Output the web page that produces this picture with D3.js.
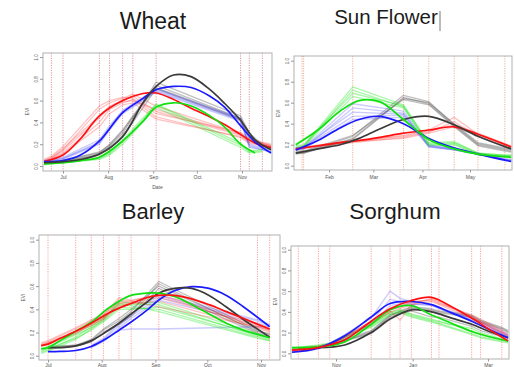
<!DOCTYPE html>
<html>
<head>
<meta charset="utf-8">
<script src="https://cdn.jsdelivr.net/npm/d3@7"></script>
<style>
    html, body { margin: 0; padding: 0; background: #fff; }
    svg { display: block; }
</style>
</head>
<body>
<svg id="chart" width="514" height="367"></svg>
<script>
// ── Data ──────────────────────────────────────────────────────────────────────
const Y_TICKS = [0, 0.2, 0.4, 0.6, 0.8, 1.0];

// Wheat
const WHEAT_MONTHS = ['2015-07-01', '2015-08-01', '2015-09-01', '2015-10-01', '2015-11-01'];
const WHEAT_VLINES = ['2015-06-23', '2015-07-01', '2015-07-26', '2015-08-02', '2015-08-11',
                      '2015-08-18', '2015-09-03', '2015-10-31', '2015-11-06', '2015-11-15'];
const WHEAT_OBS_T  = ['2015-06-18', '2015-06-23', '2015-07-01', '2015-07-26', '2015-08-02', '2015-08-11',
                      '2015-08-18', '2015-09-03', '2015-10-31', '2015-11-06', '2015-11-15', '2015-11-21'];
const WHEAT_FIT_T  = ['2015-06-18', '2015-07-01', '2015-07-13', '2015-07-26', '2015-08-11', '2015-08-25', '2015-09-03',
                      '2015-09-15', '2015-09-27', '2015-10-10', '2015-10-20', '2015-10-31', '2015-11-10', '2015-11-21'];
const WHEAT_FIT_BLACK = [0.03, 0.04, 0.06, 0.11, 0.27, 0.58, 0.73, 0.835, 0.82, 0.70, 0.575, 0.42, 0.24, 0.15];
const WHEAT_FIT_BLUE  = [0.04, 0.05, 0.10, 0.23, 0.49, 0.62, 0.70, 0.73, 0.72, 0.64, 0.54, 0.37, 0.22, 0.12];
const WHEAT_FIT_RED   = [0.04, 0.10, 0.25, 0.46, 0.60, 0.665, 0.67, 0.61, 0.53, 0.45, 0.38, 0.29, 0.21, 0.17];
const WHEAT_FIT_GREEN = [0.02, 0.03, 0.05, 0.08, 0.23, 0.41, 0.54, 0.58, 0.55, 0.46, 0.36, 0.20, 0.12, null];
const WHEAT_OBS_GRAY = [
    [0.03, 0.03, 0.04, 0.11, 0.18, 0.30, 0.44, 0.77, 0.46, 0.30, 0.20, 0.17],
    [0.03, 0.04, 0.05, 0.12, 0.20, 0.33, 0.46, 0.74, 0.44, 0.27, 0.19, 0.16],
    [0.02, 0.03, 0.04, 0.10, 0.16, 0.28, 0.40, 0.71, 0.42, 0.25, 0.18, 0.15],
    [0.03, 0.03, 0.05, 0.13, 0.19, 0.32, 0.45, 0.72, 0.43, 0.28, 0.19, 0.16],
];
const WHEAT_OBS_BLUE = [
    [0.04, 0.05, 0.07, 0.22, 0.35, 0.50, 0.56, 0.70, 0.43, 0.19, 0.16, 0.13],
    [0.03, 0.04, 0.06, 0.20, 0.33, 0.48, 0.54, 0.68, 0.41, 0.18, 0.15, 0.12],
    [0.05, 0.06, 0.08, 0.24, 0.37, 0.51, 0.57, 0.71, 0.44, 0.20, 0.17, 0.14],
    [0.04, 0.05, 0.07, 0.21, 0.34, 0.49, 0.55, 0.69, 0.42, 0.17, 0.15, 0.13],
];
const WHEAT_OBS_RED = [
    [0.04, 0.07, 0.15, 0.52, 0.58, 0.62, 0.66, 0.55, 0.30, 0.24, 0.21, 0.19],
    [0.05, 0.08, 0.16, 0.46, 0.55, 0.60, 0.64, 0.50, 0.28, 0.22, 0.20, 0.18],
    [0.03, 0.06, 0.12, 0.40, 0.52, 0.58, 0.61, 0.45, 0.26, 0.21, 0.19, 0.17],
    [0.06, 0.09, 0.18, 0.55, 0.60, 0.63, 0.62, 0.48, 0.31, 0.25, 0.22, 0.20],
    [0.04, 0.06, 0.11, 0.36, 0.48, 0.56, 0.58, 0.43, 0.27, 0.23, 0.20, 0.18],
    [0.05, 0.07, 0.14, 0.44, 0.54, 0.59, 0.60, 0.52, 0.29, 0.23, 0.21, 0.19],
];
const WHEAT_OBS_GREEN = [
    [0.02, 0.02, 0.03, 0.07, 0.11, 0.22, 0.32, 0.56, 0.19, 0.13, 0.14, null],
    [0.01, 0.02, 0.03, 0.06, 0.10, 0.20, 0.30, 0.54, 0.17, 0.12, 0.13, null],
    [0.02, 0.03, 0.04, 0.08, 0.12, 0.24, 0.34, 0.57, 0.21, 0.14, 0.15, null],
];

// Sun Flower
const SF_MONTHS = ['2015-02-01', '2015-03-01', '2015-04-01', '2015-05-01'];
const SF_VLINES = ['2015-01-15', '2015-01-16', '2015-02-16', '2015-03-20',
                   '2015-04-05', '2015-04-21', '2015-05-06', '2015-05-23'];
const SF_OBS_T  = ['2015-01-11', '2015-01-16', '2015-02-16', '2015-03-20', '2015-04-05',
                   '2015-04-21', '2015-05-06', '2015-05-23', '2015-05-27'];
const SF_FIT_T  = ['2015-01-11', '2015-01-25', '2015-02-08', '2015-02-20', '2015-03-05',
                   '2015-03-20', '2015-04-05', '2015-04-21', '2015-05-06', '2015-05-27'];
const SF_FIT_BLACK = [0.12, 0.16, 0.20, 0.26, 0.35, 0.44, 0.47, 0.39, 0.28, 0.16];
const SF_FIT_BLUE  = [0.15, 0.24, 0.36, 0.44, 0.47, 0.40, 0.26, 0.17, 0.11, 0.04];
const SF_FIT_RED   = [0.16, 0.19, 0.22, 0.24, 0.27, 0.31, 0.34, 0.37, 0.30, 0.18];
const SF_FIT_GREEN = [0.20, 0.34, 0.52, 0.62, 0.61, 0.44, 0.25, 0.16, 0.11, 0.08];
const SF_OBS_GRAY = [
    [0.13, 0.13, 0.28, 0.67, 0.61, 0.39, 0.21, 0.16, 0.15],
    [0.12, 0.12, 0.26, 0.65, 0.59, 0.38, 0.20, 0.15, 0.14],
    [0.14, 0.14, 0.29, 0.63, 0.58, 0.37, 0.19, 0.14, 0.13],
    [0.11, 0.12, 0.25, 0.64, 0.60, 0.40, 0.22, 0.17, 0.16],
];
const SF_OBS_BLUE = [
    [0.16, 0.17, 0.59, 0.52, 0.19, 0.16, 0.12, 0.06, 0.05],
    [0.15, 0.16, 0.55, 0.50, 0.18, 0.15, 0.11, 0.06, 0.05],
    [0.17, 0.18, 0.51, 0.49, 0.20, 0.16, 0.12, 0.07, 0.06],
    [0.16, 0.17, 0.47, 0.48, 0.19, 0.15, 0.11, 0.06, 0.05],
    [0.15, 0.16, 0.44, 0.46, 0.18, 0.15, 0.11, 0.05, 0.04],
];
const SF_OBS_RED = [
    [0.16, 0.17, 0.23, 0.29, 0.34, 0.46, 0.30, 0.20, 0.18],
    [0.15, 0.16, 0.22, 0.27, 0.32, 0.42, 0.28, 0.19, 0.17],
    [0.17, 0.18, 0.24, 0.28, 0.33, 0.39, 0.31, 0.21, 0.19],
    [0.16, 0.17, 0.23, 0.26, 0.31, 0.37, 0.29, 0.20, 0.18],
];
const SF_OBS_GREEN = [
    [0.18, 0.19, 0.75, 0.58, 0.22, 0.23, 0.12, 0.10, 0.10],
    [0.17, 0.18, 0.72, 0.56, 0.20, 0.21, 0.11, 0.09, 0.09],
    [0.19, 0.20, 0.69, 0.57, 0.21, 0.22, 0.12, 0.10, 0.10],
    [0.17, 0.18, 0.66, 0.55, 0.19, 0.20, 0.10, 0.09, 0.09],
];

// Barley
const BARLEY_MONTHS = ['2015-07-01', '2015-08-01', '2015-09-01', '2015-10-01', '2015-11-01'];
const BARLEY_VLINES = ['2015-07-01', '2015-07-17', '2015-07-26', '2015-08-02', '2015-08-11',
                       '2015-08-18', '2015-09-03', '2015-10-30', '2015-11-06'];
const BARLEY_OBS_T  = ['2015-06-27', '2015-07-01', '2015-07-17', '2015-07-26', '2015-08-02',
                       '2015-08-11', '2015-08-18', '2015-09-03', '2015-10-30', '2015-11-06'];
const BARLEY_FIT_T  = ['2015-06-27', '2015-07-01', '2015-07-08', '2015-07-17', '2015-07-26', '2015-08-04',
                       '2015-08-11', '2015-08-18', '2015-08-27', '2015-09-03', '2015-09-12', '2015-09-22',
                       '2015-10-02', '2015-10-12', '2015-10-22', '2015-11-06'];
const BARLEY_FIT_BLACK = [null, 0.07, 0.07, 0.085, 0.13, 0.21, 0.28, 0.36, 0.46, 0.54, 0.58, 0.58, 0.52, 0.42, 0.31, 0.16];
const BARLEY_FIT_BLUE  = [null, 0.035, 0.037, 0.045, 0.08, 0.15, 0.22, 0.29, 0.39, 0.48, 0.56, 0.595, 0.58, 0.52, 0.42, 0.25];
const BARLEY_FIT_RED   = [0.087, 0.10, 0.15, 0.21, 0.28, 0.36, 0.41, 0.45, 0.50, 0.52, 0.52, 0.49, 0.44, 0.38, 0.32, 0.23];
const BARLEY_FIT_GREEN = [0.06, 0.07, 0.13, 0.21, 0.29, 0.40, 0.47, 0.52, 0.54, 0.54, 0.51, 0.44, 0.36, 0.28, 0.22, 0.155];
const BARLEY_OBS_GRAY = [
    [null, 0.07, 0.09, 0.13, 0.22, 0.30, 0.38, 0.64, 0.22, 0.18],
    [null, 0.07, 0.08, 0.12, 0.20, 0.28, 0.35, 0.62, 0.20, 0.17],
    [null, 0.08, 0.09, 0.14, 0.23, 0.32, 0.40, 0.60, 0.21, 0.19],
    [null, 0.06, 0.08, 0.12, 0.19, 0.27, 0.34, 0.58, 0.19, 0.16],
];
const BARLEY_OBS_BLUE = [
    [null, null, null, 0.08, 0.13, 0.22, 0.23, 0.23, 0.25, 0.25],
    [null, null, null, 0.08, 0.14, 0.26, 0.34, 0.50, 0.30, 0.26],
    [null, null, null, 0.07, 0.12, 0.24, 0.32, 0.48, 0.28, 0.25],
    [null, null, null, 0.09, 0.15, 0.28, 0.36, 0.52, 0.31, 0.27],
];
const BARLEY_OBS_RED = [
    [0.09, 0.11, 0.21, 0.28, 0.33, 0.48, 0.47, 0.42, 0.25, 0.22],
    [0.08, 0.10, 0.19, 0.27, 0.32, 0.45, 0.46, 0.50, 0.26, 0.22],
    [0.10, 0.12, 0.23, 0.30, 0.35, 0.50, 0.48, 0.52, 0.25, 0.21],
    [0.09, 0.11, 0.20, 0.26, 0.31, 0.43, 0.45, 0.47, 0.24, 0.20],
    [0.11, 0.13, 0.24, 0.31, 0.36, 0.46, 0.47, 0.53, 0.27, 0.23],
];
const BARLEY_OBS_GREEN = [
    [0.03, 0.05, 0.16, 0.25, 0.32, 0.45, 0.44, 0.44, 0.17, 0.14],
    [0.05, 0.07, 0.18, 0.24, 0.30, 0.42, 0.41, 0.40, 0.16, 0.13],
    [0.04, 0.06, 0.15, 0.22, 0.29, 0.40, 0.40, 0.42, 0.18, 0.15],
    [0.06, 0.08, 0.19, 0.26, 0.33, 0.44, 0.43, 0.38, 0.15, 0.13],
    [0.02, 0.04, 0.14, 0.23, 0.31, 0.47, 0.45, 0.46, 0.19, 0.16],
];

// Sorghum
const SORGHUM_MONTHS = ['2015-11-01', '2016-01-01', '2016-03-01'];
const SORGHUM_VLINES = ['2015-10-02', '2015-10-18', '2015-10-27', '2015-11-29', '2015-12-14', '2015-12-22',
                        '2015-12-31', '2016-01-16', '2016-01-22', '2016-02-17', '2016-02-24', '2016-03-12'];
const SORGHUM_OBS_T  = ['2015-09-27', '2015-10-02', '2015-10-18', '2015-10-27', '2015-11-29', '2015-12-14', '2015-12-22',
                        '2015-12-31', '2016-01-16', '2016-01-22', '2016-02-17', '2016-02-24', '2016-03-12', '2016-03-17'];
const SORGHUM_FIT_T  = ['2015-09-27', '2015-10-18', '2015-11-08', '2015-11-29', '2015-12-14', '2015-12-31',
                        '2016-01-16', '2016-02-01', '2016-02-17', '2016-03-02', '2016-03-17'];
const SORGHUM_FIT_BLACK = [null, 0.054, 0.08, 0.20, 0.33, 0.42, 0.40, 0.34, 0.28, 0.21, 0.15];
const SORGHUM_FIT_BLUE  = [0.01, 0.05, 0.17, 0.35, 0.48, 0.50, 0.47, 0.39, 0.31, 0.23, 0.15];
const SORGHUM_FIT_RED   = [0.03, 0.055, 0.13, 0.31, 0.43, 0.51, 0.54, 0.45, 0.34, 0.23, 0.12];
const SORGHUM_FIT_GREEN = [0.055, 0.06, 0.11, 0.28, 0.42, 0.46, 0.37, 0.29, 0.21, 0.16, 0.12];
const SORGHUM_OBS_GRAY = [
    [null, 0.05, 0.06, 0.08, 0.19, 0.33, 0.38, 0.41, 0.35, 0.35, 0.26, 0.22, 0.16, 0.14],
    [null, 0.05, 0.06, 0.08, 0.21, 0.36, 0.41, 0.45, 0.43, 0.41, 0.37, 0.32, 0.25, 0.22],
    [null, 0.05, 0.06, 0.09, 0.22, 0.37, 0.40, 0.44, 0.42, 0.40, 0.36, 0.31, 0.24, 0.21],
    [null, 0.04, 0.05, 0.08, 0.20, 0.35, 0.39, 0.43, 0.41, 0.39, 0.35, 0.30, 0.23, 0.20],
];
const SORGHUM_OBS_BLUE = [
    [0.01, 0.02, 0.05, 0.09, 0.34, 0.60, 0.53, 0.50, 0.47, 0.44, 0.33, 0.29, 0.20, 0.17],
    [0.02, 0.03, 0.06, 0.10, 0.30, 0.52, 0.50, 0.48, 0.46, 0.43, 0.32, 0.28, 0.19, 0.16],
    [0.01, 0.02, 0.05, 0.08, 0.28, 0.46, 0.48, 0.47, 0.47, 0.44, 0.34, 0.30, 0.21, 0.18],
];
const SORGHUM_OBS_RED = [
    [0.03, 0.04, 0.06, 0.08, 0.30, 0.41, 0.32, 0.47, 0.53, 0.50, 0.36, 0.31, 0.21, 0.17],
    [0.04, 0.05, 0.07, 0.09, 0.28, 0.42, 0.44, 0.49, 0.52, 0.49, 0.35, 0.30, 0.20, 0.16],
    [0.03, 0.04, 0.06, 0.08, 0.31, 0.43, 0.45, 0.50, 0.51, 0.48, 0.37, 0.33, 0.22, 0.18],
    [0.02, 0.04, 0.05, 0.08, 0.29, 0.40, 0.43, 0.47, 0.50, 0.47, 0.34, 0.30, 0.19, 0.15],
];
const SORGHUM_OBS_GREEN = [
    [0.05, 0.06, 0.07, 0.09, 0.27, 0.40, 0.42, 0.38, 0.33, 0.31, 0.22, 0.18, 0.13, 0.12],
    [0.05, 0.06, 0.07, 0.09, 0.26, 0.38, 0.40, 0.36, 0.31, 0.29, 0.19, 0.16, 0.12, 0.11],
    [0.06, 0.06, 0.08, 0.10, 0.28, 0.39, 0.41, 0.37, 0.32, 0.30, 0.24, 0.20, 0.14, 0.12],
    [0.05, 0.05, 0.07, 0.09, 0.25, 0.37, 0.39, 0.35, 0.30, 0.28, 0.18, 0.15, 0.11, 0.10],
];


// ── Styles ────────────────────────────────────────────────────────────────────
const FIT_COLOR = { black: '#3a3a3a', blue: '#1a1aff', red: '#ff1010', green: '#10e010' };
const OBS_COLOR = {
    gray:  'rgba(60,60,60,0.32)',
    blue:  'rgba(70,70,255,0.28)',
    red:   'rgba(255,40,40,0.28)',
    green: 'rgba(20,230,20,0.35)',
};
const FONT = '"Liberation Sans", Arial, sans-serif';


// ── Panels ────────────────────────────────────────────────────────────────────
// xLabelY: baseline of the month labels (bottom panels sit at the image edge)
const PANELS = [
    {
        title: 'Wheat', titleX: 153, titleY: 29, titleSize: 23,
        box: [43, 53, 272, 171], y0: 166, y1: 57, xLabelY: 179,
        xAnchor: ['2015-07-01', '2015-11-01'], xAnchorPx: [63, 242],
        months: WHEAT_MONTHS, vlines: WHEAT_VLINES, vlineColor: 'rgba(200,60,80,0.6)',
        obsT: WHEAT_OBS_T, fitT: WHEAT_FIT_T, xTitle: 'Date',
        obs: { gray: WHEAT_OBS_GRAY, red: WHEAT_OBS_RED, blue: WHEAT_OBS_BLUE, green: WHEAT_OBS_GREEN },
        fit: { red: WHEAT_FIT_RED, green: WHEAT_FIT_GREEN, blue: WHEAT_FIT_BLUE, black: WHEAT_FIT_BLACK },
    },
    {
        title: 'Sun Flower', titleX: 386, titleY: 24, titleSize: 20.5, cursor: true,
        box: [294, 56, 512, 170], y0: 165.7, y1: 60.7, xLabelY: 179,
        xAnchor: ['2015-02-01', '2015-05-01'], xAnchorPx: [329, 470],
        months: SF_MONTHS, vlines: SF_VLINES, vlineColor: 'rgba(225,110,60,0.6)',
        obsT: SF_OBS_T, fitT: SF_FIT_T,
        obs: { red: SF_OBS_RED, gray: SF_OBS_GRAY, blue: SF_OBS_BLUE, green: SF_OBS_GREEN },
        fit: { red: SF_FIT_RED, black: SF_FIT_BLACK, blue: SF_FIT_BLUE, green: SF_FIT_GREEN },
    },
    {
        title: 'Barley', titleX: 153, titleY: 219, titleSize: 22,
        box: [39, 235, 280, 360], y0: 355.7, y1: 239.7, xLabelY: 366.5,
        xAnchor: ['2015-07-01', '2015-11-01'], xAnchorPx: [48, 261],
        months: BARLEY_MONTHS, vlines: BARLEY_VLINES, vlineColor: 'rgba(255,60,60,0.55)',
        obsT: BARLEY_OBS_T, fitT: BARLEY_FIT_T,
        obs: { gray: BARLEY_OBS_GRAY, blue: BARLEY_OBS_BLUE, green: BARLEY_OBS_GREEN, red: BARLEY_OBS_RED },
        fit: { blue: BARLEY_FIT_BLUE, black: BARLEY_FIT_BLACK, green: BARLEY_FIT_GREEN, red: BARLEY_FIT_RED },
    },
    {
        title: 'Sorghum', titleX: 395, titleY: 219, titleSize: 22.5,
        box: [291, 246, 509, 359], y0: 353.3, y1: 249.7, xLabelY: 366.5,
        xAnchor: ['2015-11-01', '2016-03-01'], xAnchorPx: [336, 488],
        months: SORGHUM_MONTHS, vlines: SORGHUM_VLINES, vlineColor: 'rgba(255,60,60,0.55)',
        obsT: SORGHUM_OBS_T, fitT: SORGHUM_FIT_T,
        obs: { gray: SORGHUM_OBS_GRAY, green: SORGHUM_OBS_GREEN, blue: SORGHUM_OBS_BLUE, red: SORGHUM_OBS_RED },
        fit: { black: SORGHUM_FIT_BLACK, green: SORGHUM_FIT_GREEN, blue: SORGHUM_FIT_BLUE, red: SORGHUM_FIT_RED },
    },
];


// ── Drawing ───────────────────────────────────────────────────────────────────
const parse = d3.timeParse('%Y-%m-%d');
const svg = d3.select('#chart');

function drawPanel(p) {
    const [bx0, by0, bx1, by1] = p.box;
    const x = d3.scaleTime().domain(p.xAnchor.map(parse)).range(p.xAnchorPx);
    const y = d3.scaleLinear().domain([0, 1]).range([p.y0, p.y1]);
    const g = svg.append('g');

    // Title
    svg.append('text')
        .attr('x', p.titleX).attr('y', p.titleY)
        .attr('text-anchor', 'middle')
        .attr('font-family', FONT)
        .attr('font-size', p.titleSize)
        .attr('fill', '#1b1b1b')
        .text(p.title);

    if (p.cursor) {
        svg.append('line')
            .attr('x1', 440).attr('x2', 440).attr('y1', 11).attr('y2', 31)
            .attr('stroke', '#555').attr('stroke-width', 0.8);
    }

    // Dotted phenology lines
    g.selectAll('line.vl')
        .data(p.vlines.map(parse))
        .join('line')
        .attr('class', 'vl')
        .attr('x1', d => x(d)).attr('x2', d => x(d))
        .attr('y1', by0).attr('y2', by1)
        .attr('stroke', p.vlineColor)
        .attr('stroke-width', 0.9)
        .attr('stroke-dasharray', '1.2,1.2');

    // Observed series (thin, pale, straight segments)
    const obsT = p.obsT.map(parse);
    const obsLine = d3.line()
        .defined(d => d[1] != null)
        .x(d => x(d[0])).y(d => y(d[1]));
    Object.entries(p.obs).forEach(([col, rows]) => {
        g.selectAll(null)
            .data(rows)
            .join('path')
            .attr('d', r => obsLine(obsT.map((t, i) => [t, r[i]])))
            .attr('fill', 'none')
            .attr('stroke', OBS_COLOR[col])
            .attr('stroke-width', 1.3)
            .attr('stroke-linejoin', 'round');
    });

    // Fitted series (thick, smooth)
    const fitT = p.fitT.map(parse);
    const fitLine = d3.line()
        .defined(d => d[1] != null)
        .curve(d3.curveCatmullRom.alpha(0.5))
        .x(d => x(d[0])).y(d => y(d[1]));
    Object.entries(p.fit).forEach(([col, vals]) => {
        g.append('path')
            .attr('d', fitLine(fitT.map((t, i) => [t, vals[i]])))
            .attr('fill', 'none')
            .attr('stroke', FIT_COLOR[col])
            .attr('stroke-width', 1.7);
    });

    // Frame
    g.append('rect')
        .attr('x', bx0).attr('y', by0)
        .attr('width', bx1 - bx0).attr('height', by1 - by0)
        .attr('fill', 'none')
        .attr('stroke', '#a8a8a8')
        .attr('stroke-width', 0.9);

    // Axes (R style: y labels turned parallel to the axis)
    const yAxis = g.append('g')
        .attr('transform', `translate(${bx0},0)`)
        .call(d3.axisLeft(y).tickValues(Y_TICKS).tickSize(3).tickFormat(d3.format('.1f')));
    yAxis.select('.domain').remove();
    yAxis.selectAll('line').attr('stroke', '#999');
    yAxis.selectAll('text')
        .attr('font-family', FONT).attr('font-size', 4.5).attr('fill', '#555')
        .attr('x', 0).attr('y', 0).attr('dy', null)
        .attr('text-anchor', 'middle')
        .attr('transform', 'translate(-5,0) rotate(-90)');

    const xAxis = g.append('g')
        .attr('transform', `translate(0,${by1})`)
        .call(d3.axisBottom(x).tickValues(p.months.map(parse)).tickSize(2.5)
            .tickFormat(d3.timeFormat('%b')));
    xAxis.select('.domain').remove();
    xAxis.selectAll('line').attr('stroke', '#999');
    xAxis.selectAll('text')
        .attr('font-family', FONT).attr('font-size', 5).attr('fill', '#555')
        .attr('y', p.xLabelY - by1).attr('dy', null);

    // Axis titles
    g.append('text')
        .attr('transform', `translate(${bx0 - 14},${(p.y0 + p.y1) / 2}) rotate(-90)`)
        .attr('text-anchor', 'middle')
        .attr('font-family', FONT).attr('font-size', 4.5).attr('fill', '#555')
        .text('EVI');

    if (p.xTitle) {
        g.append('text')
            .attr('x', (bx0 + bx1) / 2).attr('y', by1 + 18)
            .attr('text-anchor', 'middle')
            .attr('font-family', FONT).attr('font-size', 5).attr('fill', '#555')
            .text(p.xTitle);
    }
}

PANELS.forEach(drawPanel);
</script>
</body>
</html>
